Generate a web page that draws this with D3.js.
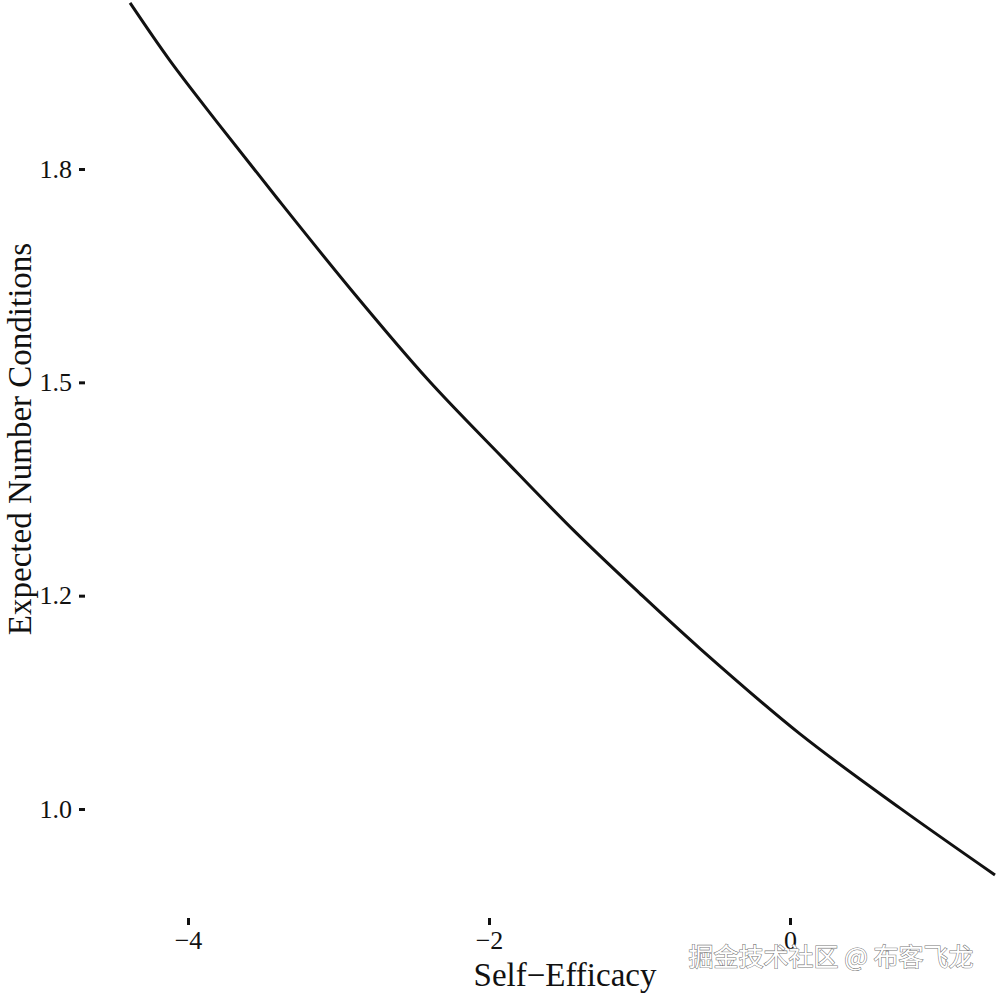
<!DOCTYPE html>
<html>
<head>
<meta charset="utf-8">
<script src="https://cdn.jsdelivr.net/npm/d3@7/dist/d3.min.js"></script>
<style>
  html, body { margin: 0; padding: 0; background: #fff; }
  svg { display: block; }
</style>
</head>
<body>
<svg id="chart" width="1000" height="996"></svg>
<script>
// Values
const selfEfficacy = [-4.385, -4.12, -3.807, -3.409, -2.9, -2.405, -1.9, -1.429, -1.0, -0.598, 0.066, 0.731, 1.362];
const expectedConditions = [1.9446, 1.877, 1.805, 1.716, 1.605, 1.503, 1.410, 1.325, 1.253, 1.188, 1.088, 1.001, 0.9227];
const xTicks = [-4, -2, 0];
const xTickLabels = ["\u22124", "\u22122", "0"];
const yTicks = [1.0, 1.25, 1.5, 1.75];
const yTickLabels = ["1.0", "1.2", "1.5", "1.8"];
const xTitle = "Self\u2212Efficacy";
const yTitle = "Expected Number Conditions";
const watermark = "掘金技术社区 @ 布客飞龙";

const data = selfEfficacy.map((x, i) => ({ x, y: expectedConditions[i] }));

const svg = d3.select("#chart");
const serif = "'Liberation Serif', 'Times New Roman', serif";

const x = d3.scaleLinear().domain([-4, 0]).range([188, 790]);
const y = d3.scaleLinear().domain([1.0, 1.75]).range([809, 169]);

// Curve
svg.append("path")
  .datum(data)
  .attr("fill", "none")
  .attr("stroke", "#111")
  .attr("stroke-width", 3)
  .attr("d", d3.line().x(d => x(d.x)).y(d => y(d.y)).curve(d3.curveCatmullRom));

// Y axis
const yAxis = d3.axisLeft(y).tickValues(yTicks).tickSize(6).tickPadding(7)
  .tickFormat((d, i) => yTickLabels[i]);
const yg = svg.append("g").attr("transform", "translate(85,0)").call(yAxis);
yg.select(".domain").remove();
yg.selectAll(".tick line").attr("stroke", "#111").attr("stroke-width", 3);
yg.selectAll(".tick text").attr("fill", "#111").style("font-family", serif).style("font-size", "26px");

// X axis
const xAxis = d3.axisBottom(x).tickValues(xTicks).tickSize(7).tickPadding(6)
  .tickFormat((d, i) => xTickLabels[i]);
const xg = svg.append("g").attr("transform", "translate(0,918)").call(xAxis);
xg.select(".domain").remove();
xg.selectAll(".tick line").attr("stroke", "#111").attr("stroke-width", 3);
xg.selectAll(".tick text").attr("fill", "#111").style("font-family", serif).style("font-size", "26px");

// Titles
svg.append("text")
  .attr("x", 565).attr("y", 986)
  .attr("text-anchor", "middle")
  .style("font-family", serif).style("font-size", "33px").attr("fill", "#111")
  .text(xTitle);

svg.append("text")
  .attr("transform", "translate(31,439) rotate(-90)")
  .attr("text-anchor", "middle")
  .style("font-family", serif).style("font-size", "33px").attr("fill", "#111")
  .text(yTitle);

// Watermark
svg.append("text")
  .attr("x", 831).attr("y", 966)
  .attr("text-anchor", "middle")
  .style("font-family", "'Noto Sans CJK SC', sans-serif").style("font-size", "25px")
  .attr("fill", "#fff").attr("stroke", "#777").attr("stroke-width", 1.1)
  .attr("paint-order", "stroke")
  .text(watermark);
</script>
</body>
</html>
